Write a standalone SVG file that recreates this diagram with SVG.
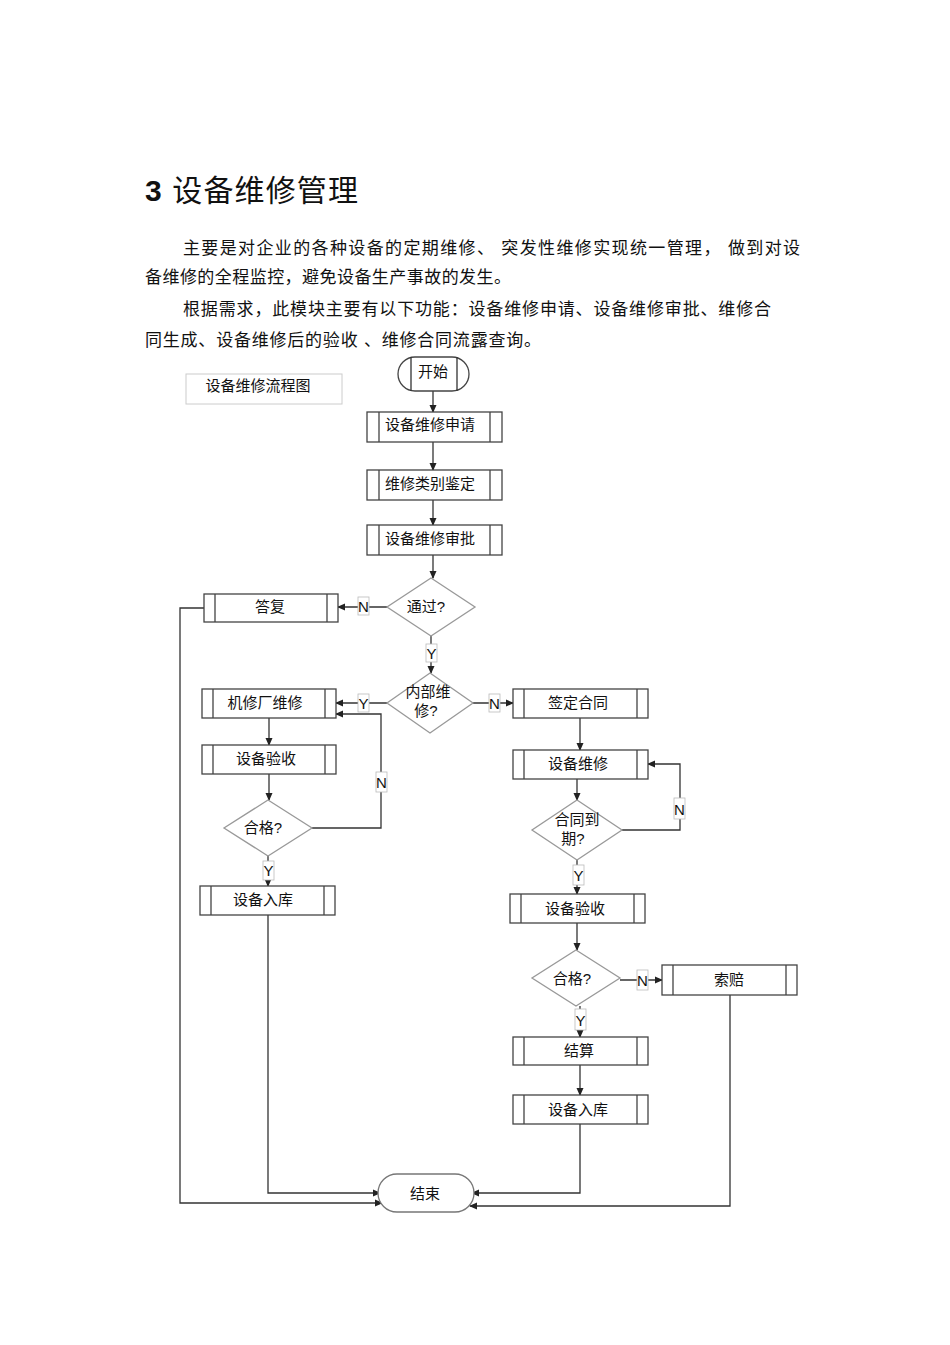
<svg xmlns="http://www.w3.org/2000/svg" width="950" height="1345" viewBox="0 0 950 1345">
<style>
text{font-family:"Liberation Sans","Noto Sans CJK SC",sans-serif;fill:#111}
.t{font-size:15px;text-anchor:middle}
.p{font-size:17px}
.bx{fill:#fff;stroke:#444;stroke-width:1.3}
.dm{fill:#fff;stroke:#999;stroke-width:1.3}
.ln{fill:none;stroke:#333;stroke-width:1.3}
.lb{fill:#fff;stroke:#bbb;stroke-width:0.8}
.lt{font-size:15px;text-anchor:middle}
</style>
<defs>
<marker id="a" markerWidth="8" markerHeight="8" refX="7" refY="4" orient="auto" markerUnits="userSpaceOnUse">
<path d="M0,0.5 L8,4 L0,7.5 Z" fill="#222"/>
</marker>
</defs>
<rect width="950" height="1345" fill="#fff"/>
<text x="145" y="201" style="font-size:30px" textLength="213" lengthAdjust="spacing"><tspan font-weight="bold">3</tspan> 设备维修管理</text>
<text class="p" x="183" y="254" textLength="617" lengthAdjust="spacing">主要是对企业的各种设备的定期维修、   突发性维修实现统一管理，   做到对设</text>
<text class="p" x="145" y="283" textLength="366" lengthAdjust="spacing">备维修的全程监控，避免设备生产事故的发生。</text>
<text class="p" x="183" y="315" textLength="588" lengthAdjust="spacing">根据需求，此模块主要有以下功能：设备维修申请、设备维修审批、维修合</text>
<text class="p" x="145" y="346" textLength="396" lengthAdjust="spacing">同生成、设备维修后的验收   、维修合同流露查询。</text>

<g id="title"><rect x="186" y="374" width="156" height="30" fill="#fff" stroke="#ccc"/><text class="t" x="258" y="391">设备维修流程图</text></g>

<g id="connectors">
<path class="ln" d="M433,391 V412" marker-end="url(#a)"/>
<path class="ln" d="M433,442 V470" marker-end="url(#a)"/>
<path class="ln" d="M433,500 V525" marker-end="url(#a)"/>
<path class="ln" d="M433,555 V578" marker-end="url(#a)"/>
<path class="ln" d="M387,607 H338" marker-end="url(#a)"/>
<path class="ln" d="M431,636 V673" marker-end="url(#a)"/>
<path class="ln" d="M387,703 H336" marker-end="url(#a)"/>
<path class="ln" d="M473,703 H513" marker-end="url(#a)"/>
<path class="ln" d="M269,718 V745" marker-end="url(#a)"/>
<path class="ln" d="M269,774 V800" marker-end="url(#a)"/>
<path class="ln" d="M312,828 H381 V714 H336" marker-end="url(#a)"/>
<path class="ln" d="M268,856 V886" marker-end="url(#a)"/>
<path class="ln" d="M268,915 V1193 H380" marker-end="url(#a)"/>
<path class="ln" d="M204,608 H180 V1203 H382" marker-end="url(#a)"/>
<path class="ln" d="M580,718 V750" marker-end="url(#a)"/>
<path class="ln" d="M577,779 V800" marker-end="url(#a)"/>
<path class="ln" d="M622,830 H680 V764 H648" marker-end="url(#a)"/>
<path class="ln" d="M577,860 V894" marker-end="url(#a)"/>
<path class="ln" d="M577,923 V950" marker-end="url(#a)"/>
<path class="ln" d="M620,980 H662" marker-end="url(#a)"/>
<path class="ln" d="M580,1006 V1037" marker-end="url(#a)"/>
<path class="ln" d="M580,1065 V1095" marker-end="url(#a)"/>
<path class="ln" d="M580,1124 V1193 H472" marker-end="url(#a)"/>
<path class="ln" d="M730,995 V1206 H470" marker-end="url(#a)"/>
<rect class="lb" x="358" y="597" width="11" height="18"/><text class="lt" x="363.5" y="612">N</text>
<rect class="lb" x="426" y="644" width="11" height="18"/><text class="lt" x="431.5" y="659">Y</text>
<rect class="lb" x="358" y="694" width="11" height="18"/><text class="lt" x="363.5" y="709">Y</text>
<rect class="lb" x="489" y="694" width="11" height="18"/><text class="lt" x="494.5" y="709">N</text>
<rect class="lb" x="376" y="772" width="11" height="20"/><text class="lt" x="381.5" y="788">N</text>
<rect class="lb" x="263" y="861" width="11" height="19"/><text class="lt" x="268.5" y="876">Y</text>
<rect class="lb" x="674" y="798" width="11" height="21"/><text class="lt" x="679.5" y="815">N</text>
<rect class="lb" x="573" y="865" width="11" height="20"/><text class="lt" x="578.5" y="881">Y</text>
<rect class="lb" x="637" y="970" width="11" height="20"/><text class="lt" x="642.5" y="986">N</text>
<rect class="lb" x="575" y="1009" width="11" height="21"/><text class="lt" x="580.5" y="1026">Y</text>
</g>

<g id="start"><rect class="bx" x="398" y="357" width="71" height="34" rx="17"/><path class="ln" d="M411,357 V391 M457,357 V391" stroke="#444"/><text class="t" x="433" y="377">开始</text></g>
<g id="apply"><rect class="bx" x="367" y="412" width="135" height="30"/><path class="bx" d="M379,412 V442 M490,412 V442"/><text class="t" x="430" y="430">设备维修申请</text></g>
<g id="classify"><rect class="bx" x="367" y="470" width="135" height="30"/><path class="bx" d="M379,470 V500 M490,470 V500"/><text class="t" x="430" y="489">维修类别鉴定</text></g>
<g id="approve"><rect class="bx" x="367" y="525" width="135" height="30"/><path class="bx" d="M379,525 V555 M490,525 V555"/><text class="t" x="430" y="544">设备维修审批</text></g>
<g id="pass"><path class="dm" d="M431,578 L475,607 L431,636 L387,607 Z"/><text class="t" x="426" y="612">通过?</text></g>
<g id="reply"><rect class="bx" x="204" y="594" width="134" height="28"/><path class="bx" d="M215,594 V622 M327,594 V622"/><text class="t" x="270" y="612">答复</text></g>
<g id="internal"><path class="dm" d="M430,673 L473,703 L430,733 L387,703 Z"/><text class="t" x="428" y="697">内部维</text><text class="t" x="426" y="716">修?</text></g>
<g id="factory"><rect class="bx" x="202" y="689" width="134" height="29"/><path class="bx" d="M213,689 V718 M325,689 V718"/><text class="t" x="265" y="708">机修厂维修</text></g>
<g id="check1"><rect class="bx" x="202" y="745" width="134" height="29"/><path class="bx" d="M213,745 V774 M325,745 V774"/><text class="t" x="266" y="764">设备验收</text></g>
<g id="ok1"><path class="dm" d="M268,800 L312,828 L268,856 L224,828 Z"/><text class="t" x="263" y="833">合格?</text></g>
<g id="store1"><rect class="bx" x="200" y="886" width="135" height="29"/><path class="bx" d="M211,886 V915 M324,886 V915"/><text class="t" x="263" y="905">设备入库</text></g>
<g id="contract"><rect class="bx" x="513" y="689" width="135" height="29"/><path class="bx" d="M524,689 V718 M637,689 V718"/><text class="t" x="578" y="708">签定合同</text></g>
<g id="repair"><rect class="bx" x="513" y="750" width="135" height="29"/><path class="bx" d="M524,750 V779 M637,750 V779"/><text class="t" x="578" y="769">设备维修</text></g>
<g id="expire"><path class="dm" d="M577,800 L622,830 L577,860 L532,830 Z"/><text class="t" x="577" y="825">合同到</text><text class="t" x="573" y="844">期?</text></g>
<g id="check2"><rect class="bx" x="510" y="894" width="135" height="29"/><path class="bx" d="M521,894 V923 M634,894 V923"/><text class="t" x="575" y="914">设备验收</text></g>
<g id="ok2"><path class="dm" d="M576,950 L620,978 L576,1006 L532,978 Z"/><text class="t" x="572" y="984">合格?</text></g>
<g id="claim"><rect class="bx" x="662" y="965" width="135" height="30"/><path class="bx" d="M673,965 V995 M786,965 V995"/><text class="t" x="729" y="985">索赔</text></g>
<g id="settle"><rect class="bx" x="513" y="1037" width="135" height="28"/><path class="bx" d="M524,1037 V1065 M637,1037 V1065"/><text class="t" x="579" y="1056">结算</text></g>
<g id="store2"><rect class="bx" x="513" y="1095" width="135" height="29"/><path class="bx" d="M524,1095 V1124 M637,1095 V1124"/><text class="t" x="578" y="1115">设备入库</text></g>
<g id="end"><rect x="378" y="1174" width="96" height="38" rx="19" fill="#fff" stroke="#777" stroke-width="1.3"/><text class="t" x="425" y="1199">结束</text></g>
</svg>
